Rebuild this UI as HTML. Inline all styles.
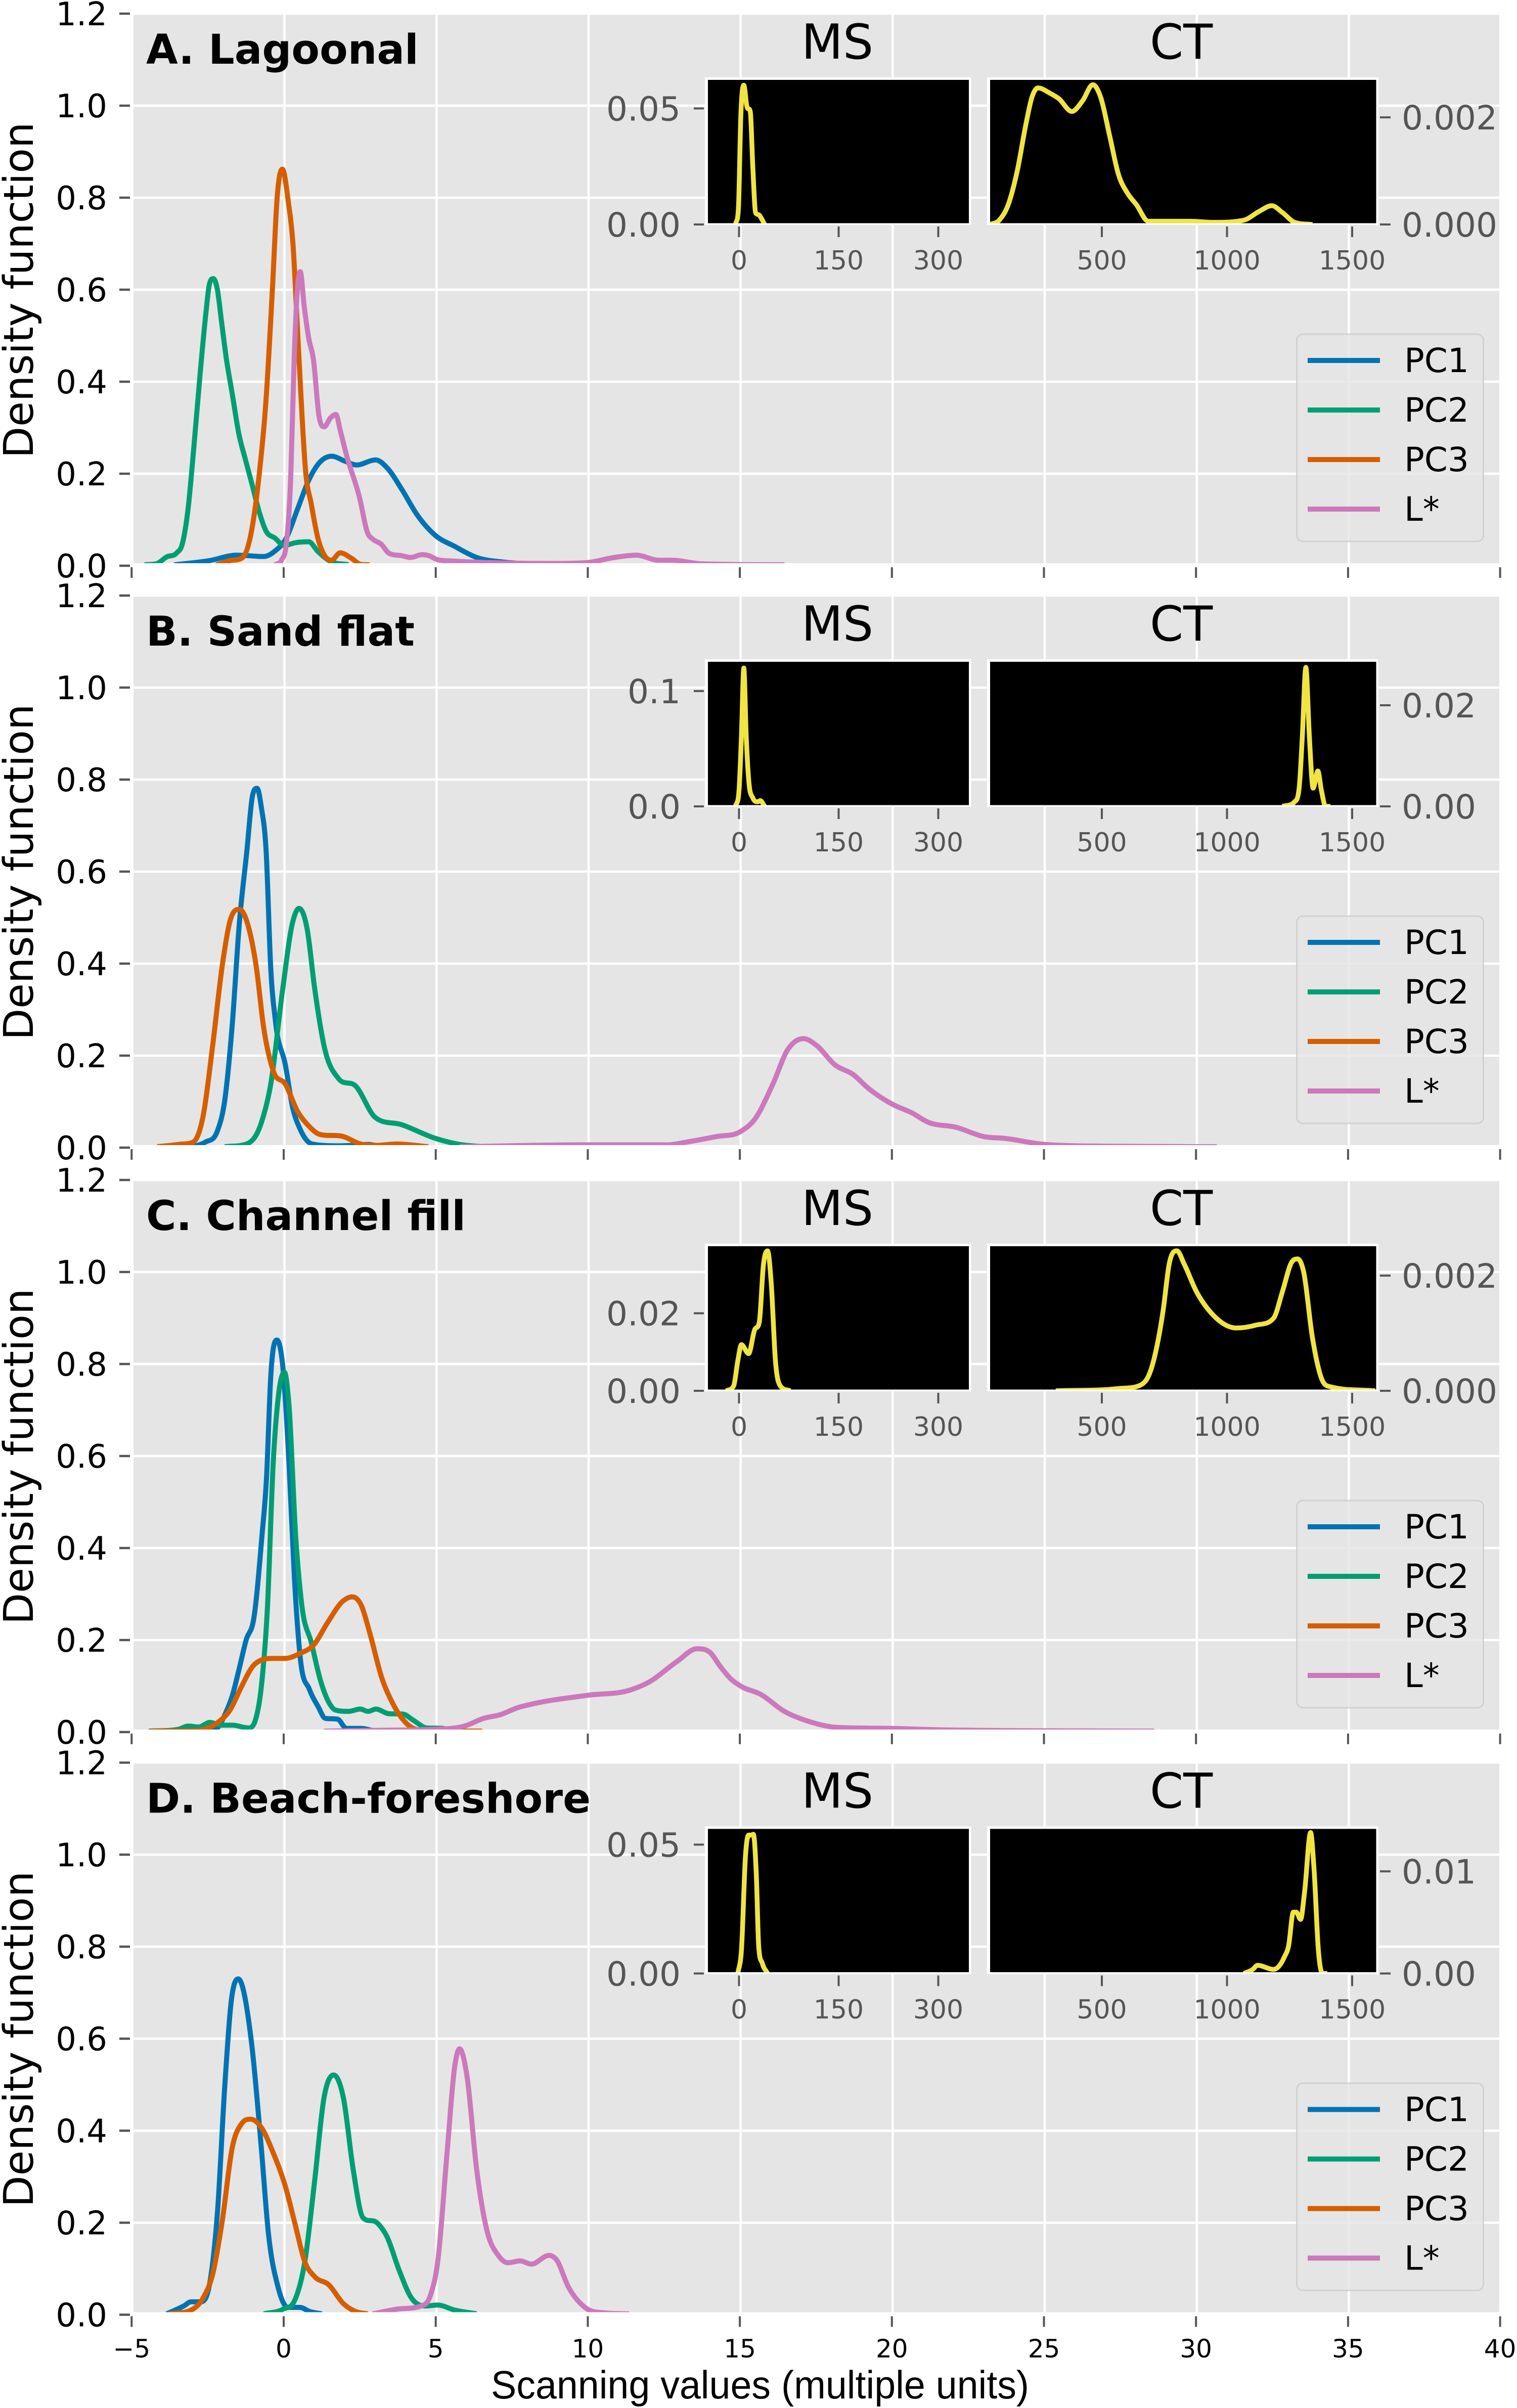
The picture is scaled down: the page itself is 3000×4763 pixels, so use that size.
<!DOCTYPE html>
<html lang="en">
<head>
<meta charset="utf-8">
<title>Density functions of scanning values</title>
<style>
html,body{margin:0;padding:0;background:#fff}
svg{display:block}
text{font-family:"DejaVu Sans",sans-serif}
</style>
</head>
<body>
<svg id="chart" xmlns="http://www.w3.org/2000/svg" width="3000" height="4763" viewBox="0 0 3000 4763"></svg>
<script>
/* ---------- labels and ticks ---------- */
const seriesNames = ['PC1', 'PC2', 'PC3', 'L*'];
const panelTitles = ['A. Lagoonal', 'B. Sand flat', 'C. Channel fill', 'D. Beach-foreshore'];
const xTickValues = [-5, 0, 5, 10, 15, 20, 25, 30, 35, 40];
const xTickLabels = ['\u22125', '0', '5', '10', '15', '20', '25', '30', '35', '40'];
const yTickValues = [0, 0.2, 0.4, 0.6, 0.8, 1.0, 1.2];
const yTickLabels = ['0.0', '0.2', '0.4', '0.6', '0.8', '1.0', '1.2'];
const msXTickValues = [0, 150, 300];
const msXTickLabels = ['0', '150', '300'];
const ctXTickValues = [500, 1000, 1500];
const ctXTickLabels = ['500', '1000', '1500'];
const msYTickValues = [[0, 0.05], [0, 0.1], [0, 0.02], [0, 0.05]];
const msYTickLabels = [['0.00', '0.05'], ['0.0', '0.1'], ['0.00', '0.02'], ['0.00', '0.05']];
const ctYTickValues = [[0, 0.002], [0, 0.02], [0, 0.002], [0, 0.01]];
const ctYTickLabels = [['0.000', '0.002'], ['0.00', '0.02'], ['0.000', '0.002'], ['0.00', '0.01']];
const msYMax = [0.0623, 0.1254, 0.0373, 0.0561];
const ctYMax = [0.0027, 0.0286, 0.00251, 0.01416];

/* ---------- A. Lagoonal ---------- */
const lagoonalPC1X = [-3.62,-2.47,-1.57,-0.68,-0.31,0.06,0.43,0.8,1.1,1.55,2.0,2.37,3.0,3.4,3.85,4.37,4.96,5.6,6.32,7.2,8.15,9.0];
const lagoonalPC1Y = [0.002,0.011,0.023,0.02,0.032,0.06,0.123,0.186,0.22,0.238,0.227,0.219,0.23,0.211,0.167,0.11,0.066,0.042,0.018,0.008,0.004,0.002];
const lagoonalPC2X = [-4.6,-4.18,-3.88,-3.54,-3.36,-3.17,-2.99,-2.77,-2.58,-2.47,-2.34,-2.21,-2.06,-1.91,-1.72,-1.5,-1.28,-1.05,-0.83,-0.61,-0.31,-0.01,0.36,0.8,1.1,1.47,2.1];
const lagoonalPC2Y = [0.002,0.005,0.019,0.028,0.047,0.123,0.249,0.419,0.551,0.611,0.624,0.602,0.526,0.45,0.375,0.287,0.23,0.173,0.117,0.076,0.06,0.044,0.05,0.052,0.031,0.011,0.002];
const lagoonalPC3X = [-2.24,-1.8,-1.39,-1.13,-0.83,-0.61,-0.39,-0.24,-0.07,0.13,0.28,0.43,0.58,0.69,0.88,1.1,1.32,1.55,1.83,2.21,2.5,2.8];
const lagoonalPC3Y = [0.002,0.011,0.017,0.06,0.198,0.356,0.608,0.8,0.862,0.79,0.7,0.513,0.324,0.21,0.135,0.06,0.022,0.012,0.028,0.016,0.003,0.002];
const lagoonalLX = [-0.31,-0.09,0.06,0.21,0.32,0.42,0.52,0.65,0.8,0.95,1.14,1.31,1.51,1.69,1.84,2.03,2.47,2.73,2.92,3.18,3.44,3.85,4.15,4.52,4.74,5.04,5.6,7.2,9.0,9.98,10.85,11.57,12.3,12.76,13.56,14.5,16.44];
const lagoonalLY = [0.002,0.013,0.047,0.198,0.45,0.595,0.639,0.564,0.494,0.45,0.324,0.302,0.321,0.329,0.293,0.243,0.148,0.072,0.057,0.047,0.027,0.022,0.018,0.024,0.022,0.013,0.01,0.006,0.005,0.007,0.018,0.023,0.012,0.012,0.005,0.003,0.002];
const lagoonalMSX = [-5.4,-0.9,2.7,7.2,11.7,17,20.7,25,30.5,38.6];
const lagoonalMSY = [0,0.007,0.047,0.06,0.051,0.0485,0.025,0.005,0.004,0];
const lagoonalCTX = [54,90,126,162,197,221,245,293,328,380,423,464,495,531,566,603,638,686,805,853,948,1067,1127,1179,1222,1270,1341];
const lagoonalCTY = [0,0.00008,0.00037,0.001,0.00188,0.00238,0.00255,0.00245,0.00235,0.00211,0.00231,0.00261,0.00238,0.00166,0.00094,0.00058,0.00037,0.00006,0.00006,0.00006,0.00004,0.00008,0.00024,0.00035,0.00022,0.00004,0];

/* ---------- B. Sand flat ---------- */
const sandFlatPC1X = [-3,-2.6,-2.2,-1.96,-1.72,-1.48,-1.24,-1.05,-0.9,-0.76,-0.6,-0.45,-0.29,0.03,0.27,0.51,0.91,1.78,2.26,2.74,3.2];
const sandFlatPC1Y = [0.002,0.012,0.037,0.104,0.264,0.49,0.642,0.765,0.781,0.74,0.642,0.39,0.272,0.18,0.087,0.041,0.008,0.004,0.005,0.007,0.002];
const sandFlatPC2X = [-1.96,-1.24,-0.76,-0.45,-0.05,0.27,0.48,0.75,0.99,1.3,1.78,2.34,2.98,3.85,4.97,5.76,6.56];
const sandFlatPC2Y = [0.002,0.008,0.054,0.138,0.348,0.49,0.52,0.474,0.348,0.222,0.15,0.134,0.066,0.05,0.02,0.007,0.002];
const sandFlatPC3X = [-4.18,-3.47,-3,-2.67,-2.36,-2.04,-1.8,-1.48,-1.16,-0.92,-0.69,-0.37,0.03,0.43,0.83,1.15,1.94,2.5,3.05,3.69,4.73];
const sandFlatPC3Y = [0.002,0.007,0.012,0.07,0.222,0.398,0.49,0.518,0.474,0.39,0.264,0.167,0.138,0.079,0.045,0.029,0.024,0.008,0.005,0.008,0.002];
const sandFlatLX = [5.76,9.74,12.6,13.3,14.2,15,15.47,16.06,16.55,17.07,17.5,18.1,18.7,19.2,20,20.65,21.14,22.1,23,23.7,25,27.4,30.66];
const sandFlatLY = [0.002,0.006,0.006,0.013,0.024,0.035,0.062,0.138,0.213,0.237,0.222,0.18,0.159,0.129,0.094,0.075,0.056,0.044,0.024,0.02,0.007,0.003,0.002];
const sandFlatMSX = [-5.4,0,3.6,7.2,10.8,14.4,20.7,28,32,38.6];
const sandFlatMSY = [0,0.014,0.061,0.12,0.061,0.024,0.0074,0.004,0.005,0];
const sandFlatCTX = [1222,1270,1289,1301,1315,1329,1344,1363,1377,1394,1413];
const sandFlatCTY = [0,0.0009,0.004,0.0139,0.0275,0.0139,0.0036,0.007,0.0032,0,0];

/* ---------- C. Channel fill ---------- */
const channelFillPC1X = [-2.53,-2.23,-1.93,-1.71,-1.49,-1.26,-1,-0.74,-0.59,-0.45,-0.245,-0.04,0.15,0.33,0.52,0.82,1.11,1.34,1.75,2.04,2.53,2.97];
const channelFillPC1Y = [0.004,0.008,0.042,0.08,0.137,0.2,0.25,0.426,0.552,0.773,0.852,0.785,0.584,0.332,0.162,0.093,0.055,0.03,0.028,0.008,0.008,0.002];
const channelFillPC2X = [-4.46,-3.49,-3.16,-2.82,-2.45,-2.08,-1.71,-1.19,-0.97,-0.74,-0.56,-0.37,-0.19,0,0.15,0.37,0.56,0.89,1.19,1.49,1.67,2.12,2.49,2.75,3.01,3.42,3.9,4.23,4.68,5.2,5.57,5.9];
const channelFillPC2Y = [0.002,0.006,0.013,0.011,0.021,0.015,0.015,0.009,0.023,0.111,0.269,0.584,0.735,0.782,0.71,0.426,0.282,0.193,0.111,0.061,0.048,0.045,0.05,0.045,0.05,0.04,0.039,0.026,0.009,0.008,0.003,0.002];
const channelFillPC3X = [-4.42,-2.97,-2.23,-1.78,-1.41,-1.04,-0.74,-0.37,0,0.52,0.97,1.41,1.93,2.23,2.53,2.82,3.2,3.57,4.01,4.46,5.57,6.5];
const channelFillPC3Y = [0.002,0.003,0.019,0.049,0.099,0.143,0.157,0.16,0.16,0.171,0.19,0.237,0.285,0.294,0.275,0.212,0.118,0.061,0.019,0.004,0.002,0.002];
const channelFillLX = [1.3,3.37,4.96,5.92,6.56,7.11,7.67,8.15,9.98,11.4,11.97,12.92,13.56,13.96,14.35,14.67,15,15.66,16.44,17.2,18.2,19.97,21.5,28.6];
const channelFillLY = [0.002,0.004,0.006,0.013,0.03,0.038,0.053,0.061,0.08,0.092,0.108,0.154,0.181,0.175,0.141,0.116,0.1,0.082,0.045,0.024,0.01,0.008,0.005,0.002];
const channelFillMSX = [-19,-8,-1.8,3.6,14.4,23.4,30.5,36.8,43,48.5,54.8,62,77];
const channelFillMSY = [0,0.0013,0.0078,0.0119,0.0096,0.0157,0.0177,0.0326,0.0361,0.0277,0.0078,0.0013,0];
const channelFillCTX = [316,567,650,698,745,769,800,829,877,948,1039,1115,1186,1222,1258,1282,1306,1341,1377,1413,1592];
const channelFillCTY = [0,0.00004,0.00009,0.00039,0.0014,0.0022,0.00243,0.0022,0.00173,0.0013,0.00109,0.00114,0.00126,0.00173,0.00223,0.00229,0.00207,0.00093,0.00022,0.00007,0];

/* ---------- D. Beach-foreshore ---------- */
const beachPC1X = [-3.87,-3.31,-3.07,-2.75,-2.43,-2.2,-1.96,-1.75,-1.52,-1.08,-0.76,-0.53,-0.21,0.11,0.51,0.83,1.23];
const beachPC1Y = [0.002,0.019,0.028,0.028,0.079,0.225,0.499,0.681,0.73,0.59,0.362,0.179,0.06,0.016,0.016,0.007,0.002];
const beachPC2X = [-0.68,-0.05,0.35,0.67,0.99,1.3,1.62,1.94,2.26,2.58,3.06,3.37,3.77,4.17,4.65,5.04,5.6,6.32];
const beachPC2Y = [0.002,0.012,0.033,0.115,0.289,0.471,0.521,0.471,0.316,0.211,0.199,0.17,0.097,0.037,0.019,0.021,0.01,0.002];
const beachPC3X = [-3.8,-3.07,-2.67,-2.36,-2.04,-1.72,-1.4,-1.11,-0.76,-0.37,0.03,0.35,0.67,0.99,1.46,1.94,2.34,2.74];
const beachPC3Y = [0.002,0.01,0.037,0.088,0.206,0.362,0.416,0.425,0.407,0.352,0.279,0.197,0.115,0.083,0.065,0.024,0.007,0.002];
const beachLX = [2.9,3.69,4.49,4.8,5.04,5.36,5.6,5.76,6,6.32,6.64,7.03,7.35,7.75,8.12,8.7,8.94,9.34,9.9,10.53,11.33];
const beachLY = [0.002,0.012,0.019,0.042,0.115,0.362,0.54,0.578,0.52,0.316,0.188,0.129,0.113,0.117,0.11,0.129,0.12,0.06,0.015,0.004,0.002];
const beachMSX = [-1.8,3.6,9.9,14.4,18,21.6,26,29.6,35,43];
const beachMSY = [0,0.009,0.0464,0.0537,0.0537,0.054,0.0383,0.0106,0.004,0];
const beachCTX = [1067,1103,1122,1186,1229,1246,1265,1277,1294,1310,1334,1348,1365,1382,1401];
const beachCTY = [0,0.0004,0.0008,0.0004,0.0016,0.0027,0.006,0.006,0.0053,0.008,0.0138,0.0101,0.0023,0,0];

const panelCurves = [
  [[lagoonalPC1X,lagoonalPC1Y],[lagoonalPC2X,lagoonalPC2Y],[lagoonalPC3X,lagoonalPC3Y],[lagoonalLX,lagoonalLY]],
  [[sandFlatPC1X,sandFlatPC1Y],[sandFlatPC2X,sandFlatPC2Y],[sandFlatPC3X,sandFlatPC3Y],[sandFlatLX,sandFlatLY]],
  [[channelFillPC1X,channelFillPC1Y],[channelFillPC2X,channelFillPC2Y],[channelFillPC3X,channelFillPC3Y],[channelFillLX,channelFillLY]],
  [[beachPC1X,beachPC1Y],[beachPC2X,beachPC2Y],[beachPC3X,beachPC3Y],[beachLX,beachLY]]
];
const panelMS = [[lagoonalMSX,lagoonalMSY],[sandFlatMSX,sandFlatMSY],[channelFillMSX,channelFillMSY],[beachMSX,beachMSY]];
const panelCT = [[lagoonalCTX,lagoonalCTY],[sandFlatCTX,sandFlatCTY],[channelFillCTX,channelFillCTY],[beachCTX,beachCTY]];

/* ---------- styling and layout (not data) ---------- */
const seriesColors = ['#0173b2', '#029e73', '#d55e00', '#cc78bc'];
const layout = {
  baselines: [1119, 2270, 3426, 4578.5],
  left: 263, right: 2965, topRel: -1090, bottomRel: -5,
  x0: 562.5, xPerUnit: 60.14, yPerUnit: 910
};
const ms = {left: 1400, right: 1916, zeroPx: 1461.5, perUnit: 1.3133, tickL: 1372, tickR: 1392, labelX: 1346, anchor: 'end', titleX: 1656};
const ct = {left: 1958, right: 2721.5, zeroPx: 1931.5, perUnit: 0.495, tickL: 2729, tickR: 2750, labelX: 2772, anchor: 'start', titleX: 2336};
const insetTop = -961, insetBottom = -677.5, insetZero = -675, insetHeight = 286;

const svgNS = 'http://www.w3.org/2000/svg';
const root = document.getElementById('chart');
const defs = document.createElementNS(svgNS, 'defs');
root.appendChild(defs);

function make(tag, parent, attrs, content) {
  const el = document.createElementNS(svgNS, tag);
  for (const k in attrs) el.setAttribute(k, attrs[k]);
  if (content !== undefined) el.textContent = content;
  parent.appendChild(el);
  return el;
}

function fmt(v) { return v.toFixed(2); }

/* smooth cubic path through points: weighted tangents, limited to avoid overshoot */
function curvePath(px, py) {
  const n = px.length;
  const dx = [], s = [], m = new Array(n);
  for (let i = 0; i < n - 1; i++) {
    dx.push(px[i + 1] - px[i]);
    s.push((py[i + 1] - py[i]) / dx[i]);
  }
  m[0] = s[0];
  m[n - 1] = s[n - 2];
  for (let i = 1; i < n - 1; i++) {
    if (s[i - 1] * s[i] <= 0) {
      m[i] = 0;
    } else {
      const t = (dx[i] * s[i - 1] + dx[i - 1] * s[i]) / (dx[i] + dx[i - 1]);
      const lim = 3 * Math.min(Math.abs(s[i - 1]), Math.abs(s[i]));
      m[i] = Math.sign(t) * Math.min(Math.abs(t), lim);
    }
  }
  let d = 'M' + fmt(px[0]) + ' ' + fmt(py[0]);
  for (let i = 0; i < n - 1; i++) {
    const h = dx[i] / 3;
    d += 'C' + fmt(px[i] + h) + ' ' + fmt(py[i] + m[i] * h) + ' ' + fmt(px[i + 1] - h) + ' ' + fmt(py[i + 1] - m[i + 1] * h) + ' ' + fmt(px[i + 1]) + ' ' + fmt(py[i + 1]);
  }
  return d;
}

function drawInset(panel, idx, cfg, key, series, yMax, yTicks, yLabels, xTicks, xLabels, titleText) {
  const base = layout.baselines[idx];
  const xAt = v => cfg.zeroPx + v * cfg.perUnit;
  const yAt = v => base + insetZero - v / yMax * insetHeight;
  const g = make('g', panel, {});
  
  

  const border = make('rect', g, {x: cfg.left - 6, y: base + insetTop - 5, width: cfg.right - cfg.left + 10.5, height: insetBottom - insetTop + 8.5, fill: '#fff'});
  
  

  const bg = make('rect', g, {x: cfg.left, y: base + insetTop, width: cfg.right - cfg.left, height: insetBottom - insetTop, fill: '#000'});
  
  

  const clipId = 'clip-' + key + '-' + idx;
  const clip = make('clipPath', defs, {id: clipId});
  make('rect', clip, {x: cfg.left, y: base + insetTop, width: cfg.right - cfg.left, height: insetBottom - insetTop});

  const line = make('path', g, {d: curvePath(series[0].map(xAt), series[1].map(yAt)), fill: 'none', stroke: '#f0e442', 'stroke-width': 9.5, 'stroke-linejoin': 'round', 'clip-path': 'url(#' + clipId + ')'});
  
  

  xTicks.forEach((v, i) => {
    const t = make('line', g, {x1: xAt(v), x2: xAt(v), y1: base - 671, y2: base - 650, stroke: '#555', 'stroke-width': 4});
    
    
    const lab = make('text', g, {x: xAt(v), y: base - 586, 'font-size': 52, 'text-anchor': 'middle', fill: '#555'}, xLabels[i]);
    
    
  });
  yTicks.forEach((v, i) => {
    const t = make('line', g, {x1: cfg.tickL, x2: cfg.tickR, y1: yAt(v), y2: yAt(v), stroke: '#555', 'stroke-width': 4});
    
    
    const lab = make('text', g, {x: cfg.labelX, y: yAt(v) + 24, 'font-size': 66, 'text-anchor': cfg.anchor, fill: '#555'}, yLabels[i]);
    
    
  });
  const title = make('text', g, {x: cfg.titleX, y: base - 1003, 'font-size': 95, 'text-anchor': 'middle', fill: '#000'}, titleText);
  
  
}

panelTitles.forEach((titleText, idx) => {
  const base = layout.baselines[idx];
  const xAt = v => layout.x0 + v * layout.xPerUnit;
  const yAt = v => base - v * layout.yPerUnit;
  const top = base + layout.topRel, bottom = base + layout.bottomRel;

  const panel = make('g', root, {});
  
  

  const plotBg = make('rect', panel, {x: layout.left, y: top, width: layout.right - layout.left, height: bottom - top, fill: '#e5e5e5'});
  
  

  const clipId = 'clip-panel-' + idx;
  const clip = make('clipPath', defs, {id: clipId});
  make('rect', clip, {x: layout.left, y: top, width: layout.right - layout.left, height: bottom - top});

  const grid = make('g', panel, {stroke: '#fff', 'stroke-width': 4.5, 'clip-path': 'url(#' + clipId + ')'});
  
  
  xTickValues.forEach(v => {
    make('line', grid, {x1: xAt(v), x2: xAt(v), y1: top, y2: bottom});
  });
  yTickValues.forEach(v => {
    make('line', grid, {x1: layout.left, x2: layout.right, y1: yAt(v), y2: yAt(v)});
  });

  xTickValues.forEach((v, i) => {
    const t = make('line', panel, {x1: xAt(v) - 1.5, x2: xAt(v) - 1.5, y1: base + 3, y2: base + 24, stroke: '#555', 'stroke-width': 4});
    
    
    if (idx === panelTitles.length - 1) {
      const lab = make('text', panel, {x: xAt(v) - 1.5, y: base + 84.5, 'font-size': 50, 'text-anchor': 'middle', fill: '#000'}, xTickLabels[i]);
      
      
    }
  });
  yTickValues.forEach((v, i) => {
    const t = make('line', panel, {x1: 236, x2: 257, y1: yAt(v), y2: yAt(v), stroke: '#555', 'stroke-width': 4.5});
    
    
    const lab = make('text', panel, {x: 212, y: yAt(v) + 23, 'font-size': 64, 'text-anchor': 'end', fill: '#000'}, yTickLabels[i]);
    
    
  });

  const yTitle = make('text', panel, {x: 0, y: 0, transform: 'translate(65 ' + (base - 545) + ') rotate(-90)', 'font-size': 81, 'text-anchor': 'middle', fill: '#000'}, 'Density function');
  
  

  const curves = make('g', panel, {'clip-path': 'url(#' + clipId + ')'});
  
  
  panelCurves[idx].forEach((c, s) => {
    const p = make('path', curves, {d: curvePath(c[0].map(xAt), c[1].map(yAt)), fill: 'none', stroke: seriesColors[s], 'stroke-width': 10, 'stroke-linejoin': 'round'});
    
    
  });

  const title = make('text', panel, {x: 289, y: base - 993, 'font-size': 81, 'font-weight': 'bold', fill: '#000'}, titleText);
  
  

  drawInset(panel, idx, ms, 'ms', panelMS[idx], msYMax[idx], msYTickValues[idx], msYTickLabels[idx], msXTickValues, msXTickLabels, 'MS');
  drawInset(panel, idx, ct, 'ct', panelCT[idx], ctYMax[idx], ctYTickValues[idx], ctYTickLabels[idx], ctXTickValues, ctXTickLabels, 'CT');

  const legend = make('g', panel, {});
  
  
  const box = make('rect', legend, {x: 2564.5, y: base - 458, width: 369, height: 410, rx: 12, ry: 12, fill: '#e5e5e5', 'fill-opacity': 0.8, stroke: '#cccccc', 'stroke-opacity': 0.8, 'stroke-width': 3});
  
  
  seriesNames.forEach((name, s) => {
    const ly = base - 406 + s * 98;
    const swatch = make('line', legend, {x1: 2586, x2: 2729, y1: ly, y2: ly, stroke: seriesColors[s], 'stroke-width': 10});
    
    
    const lab = make('text', legend, {x: 2777, y: ly + 23, 'font-size': 66, fill: '#000'}, name);
    
    
  });
});

const xTitle = make('text', root, {x: 971, y: 4744, 'font-size': 78, textLength: 1064, lengthAdjust: 'spacingAndGlyphs', fill: '#000', style: 'font-family:"Liberation Sans",sans-serif'}, 'Scanning values (multiple units)');


</script>
</body>
</html>
